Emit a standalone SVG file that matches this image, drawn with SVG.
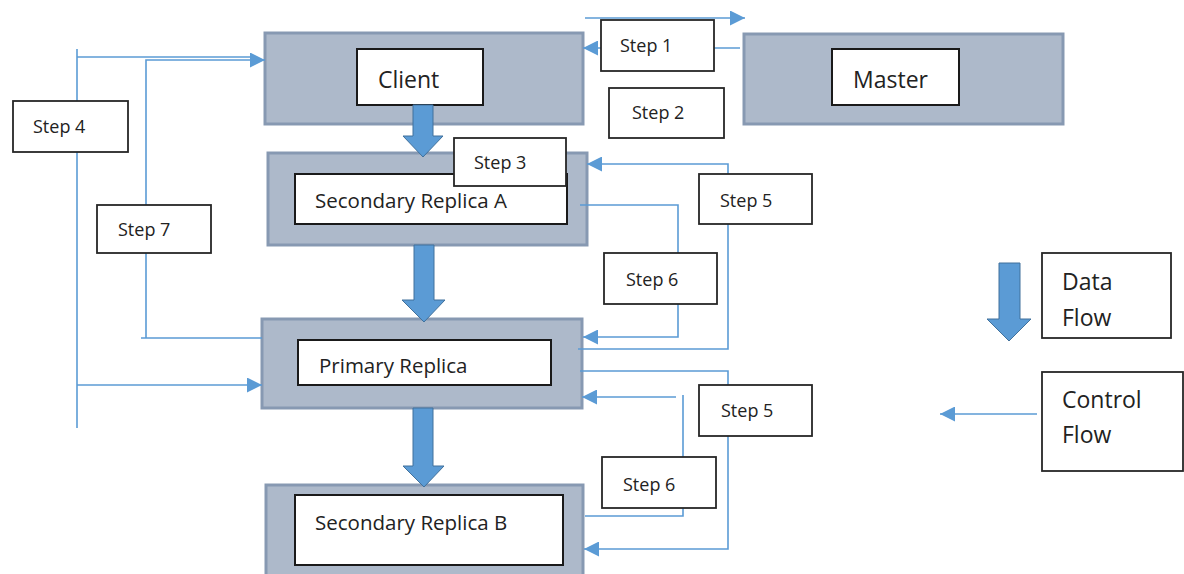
<svg xmlns="http://www.w3.org/2000/svg" width="1184" height="574" viewBox="0 0 1184 574">
  <style>
    .outer { fill: #adb9ca; stroke: #8799b2; stroke-width: 3; }
    .inner { fill: #ffffff; stroke: #1a1a1a; stroke-width: 2; }
    .step { fill: #ffffff; stroke: #262626; stroke-width: 1.8; }
    .ctl { fill: none; stroke: #5b9bd5; stroke-width: 1.6; }
    .data { fill: #5b9bd5; stroke: #41719c; stroke-width: 1; }
    text { font-family: "Open Sans", "Liberation Sans", sans-serif; fill: #222222; }
    .big { font-size: 23px; }
    .mid { font-size: 20.5px; }
    .small { font-size: 18px; }
  </style>
  <defs>
    <marker id="arrow" viewBox="0 0 10 10" refX="10" refY="5" markerUnits="userSpaceOnUse" markerWidth="15" markerHeight="15" orient="auto">
      <path d="M0,0 L10,5 L0,10 z" fill="#5b9bd5"/>
    </marker>
  </defs>

  <rect width="1184" height="574" fill="#ffffff"/>

  <!-- components -->
  <g id="client">
    <rect class="outer" x="265" y="33" width="318" height="91"/>
    <rect class="inner" x="357" y="49" width="126" height="56"/>
    <text class="big" x="378" y="88">Client</text>
  </g>
  <g id="master">
    <rect class="outer" x="744" y="34" width="319" height="90"/>
    <rect class="inner" x="832" y="49" width="127" height="56"/>
    <text class="big" x="853" y="88">Master</text>
  </g>
  <g id="secondary-a">
    <rect class="outer" x="268" y="153" width="319" height="92"/>
    <rect class="inner" x="295" y="174" width="272" height="50"/>
    <text class="mid" x="315" y="208">Secondary Replica A</text>
  </g>
  <g id="primary">
    <rect class="outer" x="262" y="319" width="320" height="89"/>
    <rect class="inner" x="298" y="340" width="253" height="45"/>
    <text class="mid" x="319" y="373">Primary Replica</text>
  </g>
  <g id="secondary-b">
    <rect class="outer" x="266" y="485" width="317" height="92"/>
    <rect class="inner" x="295" y="495" width="268" height="70"/>
    <text class="mid" x="315" y="530">Secondary Replica B</text>
  </g>

  <!-- data and control flow -->
  <g id="connectors">
    <polygon class="data" points="413,105 433,105 433,136 443,136 423,157 403,136 413,136"/>
    <polygon class="data" points="414,245 434,245 434,300 445,300 424,322 402,300 414,300"/>
    <polygon class="data" points="413,408 433,408 433,466 444,466 424,487 403,466 413,466"/>

    <path class="ctl" d="M585,18 H745" marker-end="url(#arrow)"/>
    <path class="ctl" d="M740,48 H583" marker-end="url(#arrow)"/>

    <path class="ctl" d="M77,49 V428"/>
    <path class="ctl" d="M77,57 H252"/>
    <path class="ctl" d="M77,385 H262" marker-end="url(#arrow)"/>
    <path class="ctl" d="M262,338 H141 M146,338 V60 H265" marker-end="url(#arrow)"/>

    <path class="ctl" d="M580,205 H678 V337 H583" marker-end="url(#arrow)"/>
    <path class="ctl" d="M578,349 H728 V164 H587" marker-end="url(#arrow)"/>
    <path class="ctl" d="M580,371 H728 V549 H584" marker-end="url(#arrow)"/>
    <path class="ctl" d="M676,397 H582" marker-end="url(#arrow)"/>
    <path class="ctl" d="M683,395 V516 H585"/>
  </g>

  <!-- step labels -->
  <g id="step1"><rect class="step" x="601" y="20" width="113" height="51"/><text class="small" x="620" y="52">Step 1</text></g>
  <g id="step2"><rect class="step" x="609" y="88" width="115" height="50"/><text class="small" x="632" y="119">Step 2</text></g>
  <g id="step3"><rect class="step" x="454" y="138" width="112" height="48"/><text class="small" x="474" y="169">Step 3</text></g>
  <g id="step4"><rect class="step" x="13" y="101" width="115" height="51"/><text class="small" x="33" y="133">Step 4</text></g>
  <g id="step5a"><rect class="step" x="699" y="174" width="113" height="50"/><text class="small" x="720" y="207">Step 5</text></g>
  <g id="step6a"><rect class="step" x="604" y="253" width="113" height="51"/><text class="small" x="626" y="286">Step 6</text></g>
  <g id="step7"><rect class="step" x="97" y="205" width="114" height="48"/><text class="small" x="118" y="236">Step 7</text></g>
  <g id="step5b"><rect class="step" x="699" y="385" width="113" height="51"/><text class="small" x="721" y="417">Step 5</text></g>
  <g id="step6b"><rect class="step" x="602" y="457" width="114" height="51"/><text class="small" x="623" y="491">Step 6</text></g>

  <!-- legend -->
  <g id="legend-data">
    <polygon class="data" points="999,263 1020,263 1020,319 1031,319 1009,341 987,319 999,319"/>
    <rect class="step" x="1042" y="253" width="129" height="85"/>
    <text class="big" x="1062" y="290">Data</text>
    <text class="big" x="1062" y="326">Flow</text>
  </g>
  <g id="legend-control">
    <path class="ctl" d="M1037,414 H940" marker-end="url(#arrow)"/>
    <rect class="step" x="1042" y="372" width="141" height="99"/>
    <text class="big" x="1062" y="408">Control</text>
    <text class="big" x="1062" y="443">Flow</text>
  </g>
</svg>
